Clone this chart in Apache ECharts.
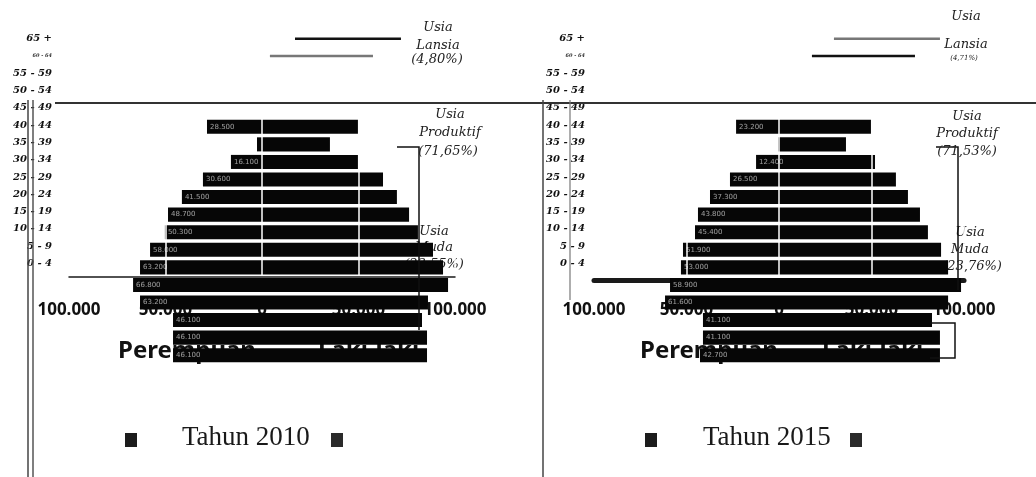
<!DOCTYPE html>
<html>
<head>
<meta charset="utf-8">
<script src="https://cdn.jsdelivr.net/npm/echarts@6/dist/echarts.min.js"></script>
<style>
html,body{margin:0;padding:0;background:#fff;}
#chart{width:1036px;height:477px;}
</style>
</head>
<body>
<div id="chart"></div>
<script>
// ---- data ----
const ageGroups = ['65 +','60 - 64','55 - 59','50 - 54','45 - 49','40 - 44','35 - 39','30 - 34','25 - 29','20 - 24','15 - 19','10 - 14','5 - 9','0 - 4'];
const xTickMin = -100000, xTickMax = 100000, xTickStep = 50000;

const female2010 = [28500, 2600, 16100, 30600, 41500, 48700, 50300, 58000, 63200, 66800, 63200, 46100, 46100, 46100];
const male2010   = [49700, 35200, 49700, 62700, 69900, 76200, 80800, 88600, 93800, 96400, 86000, 82900, 85500, 85500];
const female2015 = [23200, 500, 12400, 26500, 37300, 43800, 45400, 51900, 53000, 58900, 61600, 41100, 41100, 42700];
const male2015   = [49700, 36200, 51900, 63200, 69700, 76200, 80500, 87600, 91400, 98400, 91400, 82700, 87000, 87000];

const lansiaFrom2010 = [17100, 4100];
const lansiaTo2010   = [72000, 57500];
const lansiaFrom2015 = [29700, 17800];
const lansiaTo2015   = [87000, 73500];

const shares2010 = {lansia:'(4,80%)', produktif:'(71,65%)', muda:'(23,55%)'};
const shares2015 = {lansia:'(4,71%)', produktif:'(71,53%)', muda:'(23,76%)'};

// ---- helpers ----
const fmt = v => String(Math.abs(v)).replace(/\B(?=(\d{3})+(?!\d))/g, '.');
const LP = {left:69, width:386};
const RP = {left:594, width:370};
// layers: 0 = base (axis labels, under-text), 1 = bars + overlays
const UNDER = 0, OVER = 1;

function grid(p, top, height){ return {left:p.left, width:p.width, top:top, height:height, outerBoundsMode:'none', containLabel:false}; }
function xAx(gi, extra){
  return Object.assign({type:'value', gridIndex:gi, min:xTickMin, max:xTickMax, interval:xTickStep,
    axisTick:{show:false}, splitLine:{show:false}, axisLabel:{show:false}, axisLine:{show:false}}, extra||{});
}
function labelAxisX(gi, offset, lineW, margin){
  return xAx(gi, {position:'bottom', offset:offset, zlevel:UNDER,
    axisLine:{show:true, onZero:false, lineStyle:{color:'#1a1a1a', width:lineW}},
    axisLabel:{show:true, margin:margin, fontSize:17, fontWeight:'bold', fontFamily:'Noto Sans', color:'#111', formatter:fmt}});
}
function whiteLinesX(gi){
  return xAx(gi, {zlevel:OVER, z:30, splitLine:{show:true, lineStyle:{color:'#fff', width:1.5}}});
}
function ageAxisY(gi, margin){
  return {type:'category', gridIndex:gi, data:ageGroups, inverse:true,
    axisLine:{show:false}, axisTick:{show:false}, splitLine:{show:false},
    axisLabel:{margin:margin, fontFamily:'DejaVu Serif', fontStyle:'italic', fontWeight:'bold', fontSize:10, color:'#111',
      formatter: v => v === '60 - 64' ? '{s|' + v + '}' : v,
      rich:{s:{fontSize:5, fontFamily:'DejaVu Serif', fontWeight:'bold', color:'#333'}}}};
}
function popSeries(xi, yi, stack, vals, isFemale){
  return {type:'bar', zlevel:OVER, z:20, xAxisIndex:xi, yAxisIndex:yi, stack:stack, barCategoryGap:'20%',
    data: vals.map(v => isFemale ? -v : v),
    itemStyle:{color:'#060606'},
    label: isFemale ? {show:true, position:'insideLeft', distance:3, color:'rgba(255,255,255,0.6)', fontSize:7,
      fontFamily:'DejaVu Sans', formatter: p => Math.abs(p.value) > 10000 ? fmt(p.value) : ''} : {show:false}};
}
function lansiaSeries(xi, yi, stack, from, to, colors){
  return [
    {type:'bar', zlevel:OVER, z:20, xAxisIndex:xi, yAxisIndex:yi, stack:stack, barWidth:2.5, silent:true,
     data: from.slice(), itemStyle:{color:'rgba(0,0,0,0)'}},
    {type:'bar', zlevel:OVER, z:20, xAxisIndex:xi, yAxisIndex:yi, stack:stack, barWidth:2.5, silent:true,
     data: to.map((v,i) => ({value: v - from[i], itemStyle:{color: colors[i]}}))}
  ];
}
function txt(x, y, text, font, fill, align, layer){
  return {type:'text', x:x, y:y, zlevel:(layer===undefined?OVER:layer), z:50, silent:true,
    style:{text:text, font:font, fill:fill||'#222', textAlign:align||'center', align:align||'center', textVerticalAlign:'middle', verticalAlign:'middle'}};
}
function pl(points, w, color, layer){
  return {type:'polyline', zlevel:(layer===undefined?OVER:layer), z:50, silent:true, shape:{points:points}, style:{stroke:color||'#111', lineWidth:w, fill:null}};
}
const IT = 'italic 13px "DejaVu Serif"';

const option = {
  animation:false,
  backgroundColor:'#ffffff',
  grid:[
    grid(LP, 30, 242), grid(LP, 118, 246), grid(LP, 118, 158),
    grid(RP, 30, 242), grid(RP, 118, 246), grid(RP, 118, 158)
  ],
  xAxis:[
    labelAxisX(0, 5, 1.5, 24.5), xAx(1), whiteLinesX(2),
    labelAxisX(3, 8, 5, 21.5), xAx(4), whiteLinesX(5)
  ],
  yAxis:[
    ageAxisY(0, 17), {type:'category', gridIndex:1, data:ageGroups, inverse:true, show:false}, {type:'value', gridIndex:2, show:false},
    ageAxisY(3, 9), {type:'category', gridIndex:4, data:ageGroups, inverse:true, show:false}, {type:'value', gridIndex:5, show:false}
  ],
  series:[
    popSeries(1, 1, 'p2010', female2010, true),
    popSeries(1, 1, 'p2010', male2010, false),
    popSeries(4, 4, 'p2015', female2015, true),
    popSeries(4, 4, 'p2015', male2015, false),
    ...lansiaSeries(0, 0, 'l2010', lansiaFrom2010, lansiaTo2010, ['#111', '#777']),
    ...lansiaSeries(3, 3, 'l2015', lansiaFrom2015, lansiaTo2015, ['#777', '#111'])
  ],
  graphic:[
    // scan frame lines
    pl([[55,103],[1036,103]], 2, '#333', UNDER),
    pl([[28,100],[28,477]], 1.5, '#444', UNDER),
    pl([[33,100],[33,477]], 1.5, '#555', UNDER),
    pl([[543,100],[543,477]], 1.5, '#444', UNDER),
    pl([[570,100],[570,300]], 1.2, '#777', UNDER),
    // Usia Produktif brackets
    pl([[397,147],[419,147],[419,330]], 1.5, '#111'),
    pl([[936,147],[958,147],[958,290]], 1.5, '#111'),
    pl([[930,323],[955,323],[955,358],[930,358]], 1.5, '#111'),
    // annotations 2010
    txt(438, 28, 'Usia', IT), txt(438, 46, 'Lansia', IT), txt(437, 60, shares2010.lansia, IT),
    txt(450, 115, 'Usia', IT), txt(450, 133, 'Produktif', IT), txt(448, 152, shares2010.produktif, IT),
    txt(434, 232, 'Usia', IT, '#222', 'center', UNDER), txt(434, 248, 'Muda', IT, '#222', 'center', UNDER), txt(434, 265, shares2010.muda, IT, '#222', 'center', UNDER),
    // annotations 2015
    txt(966, 17, 'Usia', IT), txt(966, 45, 'Lansia', IT), txt(964, 58, shares2015.lansia, 'italic 7px "DejaVu Serif"'),
    txt(967, 117, 'Usia', IT), txt(967, 134, 'Produktif', IT), txt(967, 152, shares2015.produktif, IT),
    txt(970, 233, 'Usia', IT, '#222', 'center', UNDER), txt(970, 250, 'Muda', IT, '#222', 'center', UNDER), txt(972, 267, shares2015.muda, IT, '#222', 'center', UNDER),
    // sex labels (under bars)
    txt(118, 351, 'Perempuan', 'bold 24px "Noto Sans"', '#111', 'left', UNDER),
    txt(318, 351, 'Laki-laki', 'bold 24px "Noto Sans"', '#111', 'left', UNDER),
    txt(640, 351, 'Perempuan', 'bold 24px "Noto Sans"', '#111', 'left', UNDER),
    txt(822, 351, 'Laki-laki', 'bold 24px "Noto Sans"', '#111', 'left', UNDER),
    // year titles and legend boxes
    txt(182, 438, 'Tahun 2010', '27px "Liberation Serif"', '#1a1a1a', 'left', UNDER),
    txt(703, 438, 'Tahun 2015', '27px "Liberation Serif"', '#1a1a1a', 'left', UNDER),
    {type:'rect', zlevel:UNDER, silent:true, shape:{x:125, y:433, width:12, height:14}, style:{fill:'#1c1c1c'}},
    {type:'rect', zlevel:UNDER, silent:true, shape:{x:331, y:433, width:12, height:14}, style:{fill:'#2a2a2a'}},
    {type:'rect', zlevel:UNDER, silent:true, shape:{x:645, y:433, width:12, height:14}, style:{fill:'#1c1c1c'}},
    {type:'rect', zlevel:UNDER, silent:true, shape:{x:850, y:433, width:12, height:14}, style:{fill:'#2a2a2a'}}
  ]
};

const chart = echarts.init(document.getElementById('chart'), null, {renderer:'canvas'});
chart.setOption(option);
</script>
</body>
</html>
